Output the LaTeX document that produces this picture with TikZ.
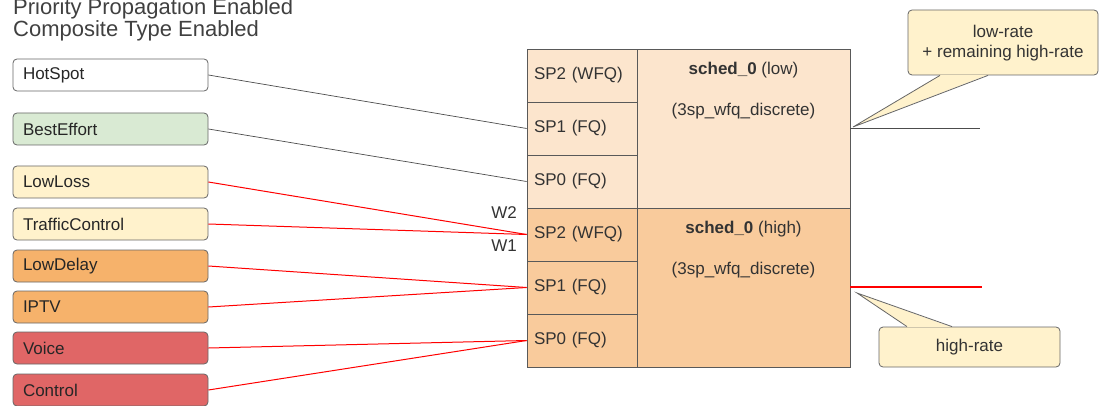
\documentclass[tikz,border=0pt]{standalone}
\usepackage{fontspec}
\setmainfont{Liberation Sans}
\usepackage{tikz}
\usetikzlibrary{calc}

\definecolor{beGreen}{HTML}{D9EAD3}
\definecolor{llYellow}{HTML}{FFF2CC}
\definecolor{ldOrange}{HTML}{F6B26B}
\definecolor{vcRed}{HTML}{E06666}
\definecolor{lowPeach}{HTML}{FCE5CD}
\definecolor{highPeach}{HTML}{F9CB9C}
\definecolor{wireRed}{HTML}{FF0000}

\begin{document}
\begin{tikzpicture}
		[x=1pt,y=-1pt,
		font=\fontsize{17}{20}\selectfont,
		cls/.style= {draw=black!60,line width=0.8pt,rounded corners=4pt,minimum height=32pt,text width=175pt,inner xsep=10pt,align=left,text=black!85},
		sp/.style= {draw=black!65,line width=0.8pt,minimum height=53pt,text width=96pt,inner xsep=7pt,inner ysep=0pt,align=left,text=black!80},
		sched/.style= {draw=black!65,line width=0.8pt,minimum width=213pt,minimum height=159pt,inner sep=0pt},
		txt/.style= {inner sep=0pt,text=black!80},
		note/.style= {draw=black!60,line width=0.8pt,fill=llYellow,rounded corners=4pt,align=center,inner sep=0pt,text=black!80},
		notetip/.style= {draw=black!60,line width=0.8pt,fill=llYellow},
		wire/.style= {draw=black!70,line width=0.7pt},
		hot/.style= {draw=wireRed,line width=1pt}]

		\useasboundingbox (0,0) rectangle (1099,406);

		\node[txt,anchor=base west,font=\fontsize{22}{26}\selectfont,text=black!75] (title1) at (13,15) {Priority Propagation Enabled};
		\node[txt,anchor=base west,font=\fontsize{22}{26}\selectfont,text=black!75] (title2) at (13,37) {Composite Type Enabled};

		\node[cls,fill=white] (hotspot) at (110.5,75) {HotSpot};
		\node[cls,fill=beGreen] (besteffort) at (110.5,129) {BestEffort};
		\node[cls,fill=llYellow] (lowloss) at (110.5,182) {LowLoss};
		\node[cls,fill=llYellow] (trafficctl) at (110.5,224) {TrafficControl};
		\node[cls,fill=ldOrange] (lowdelay) at (110.5,266) {LowDelay};
		\node[cls,fill=ldOrange] (iptv) at (110.5,307) {IPTV};
		\node[cls,fill=vcRed] (voice) at (110.5,348) {Voice};
		\node[cls,fill=vcRed] (control) at (110.5,390) {Control};

		\node[sched,fill=lowPeach] (schedlow) at (743.5,128.5) {};
		\node[sched,fill=highPeach] (schedhigh) at (743.5,287.5) {};

		\node[sp,fill=lowPeach] (sp2low) at (582,75.5) {SP2 (WFQ)};
		\node[sp,fill=lowPeach] (sp1low) at (582,128.5) {SP1 (FQ)};
		\node[sp,fill=lowPeach] (sp0low) at (582,181.5) {SP0 (FQ)};
		\node[sp,fill=highPeach] (sp2high) at (582,234.5) {SP2 (WFQ)};
		\node[sp,fill=highPeach] (sp1high) at (582,287.5) {SP1 (FQ)};
		\node[sp,fill=highPeach] (sp0high) at (582,340.5) {SP0 (FQ)};

		\node[txt] (lowname) at (743.5,70) {\textbf{sched\_0} (low)};
		\node[txt] (lowtype) at (743.5,111) {(3sp\_wfq\_discrete)};
		\node[txt] (highname) at (743.5,229) {\textbf{sched\_0} (high)};
		\node[txt] (hightype) at (743.5,270) {(3sp\_wfq\_discrete)};

		\node[txt,anchor=east] (wtwo) at (517,213) {W2};
		\node[txt,anchor=east] (wone) at (517,246) {W1};

		\draw[wire] (hotspot.east) -- (sp1low.west);
		\draw[wire] (besteffort.east) -- (sp0low.west);
		\draw[hot] (lowloss.east) -- (sp2high.west);
		\draw[hot] (trafficctl.east) -- (sp2high.west);
		\draw[hot] (lowdelay.east) -- (sp1high.west);
		\draw[hot] (iptv.east) -- (sp1high.west);
		\draw[hot] (voice.east) -- (sp0high.west);
		\draw[hot] (control.east) -- (sp0high.west);

		\coordinate (lowout) at (980,128.5);
		\coordinate (highout) at (982,287);
		\draw[wire] (schedlow.east) -- (lowout);
		\draw[hot,line width=1.3pt] (schedhigh.east |- highout) -- (highout);

		\coordinate (lowtip) at (853,127);
		\coordinate (hightip) at (857,293);
		\node[note,minimum width=190pt,minimum height=65pt] (lownote) at (1003,42.5) {\strut low-rate\\+ remaining high-rate};
		\node[note,minimum width=181pt,minimum height=40pt] (highnote) at (969.5,347) {high-rate};

		% pointers of the two notes
		\fill[llYellow] ($(lownote.south)+(-62.5,-0.5)$) -- (lowtip) -- ($(lownote.south)+(-15.5,-0.5)$) -- cycle;
		\draw[notetip,fill=none] ($(lownote.south)+(-63,0)$) -- (lowtip) -- ($(lownote.south)+(-15,0)$);
		\fill[llYellow] ($(highnote.north)+(-62,0.5)$) -- (hightip) -- ($(highnote.north)+(-18,0.5)$) -- cycle;
		\draw[notetip,fill=none] ($(highnote.north)+(-62.5,0)$) -- (hightip) -- ($(highnote.north)+(-17.5,0)$);

	\end{tikzpicture}
\end{document}
